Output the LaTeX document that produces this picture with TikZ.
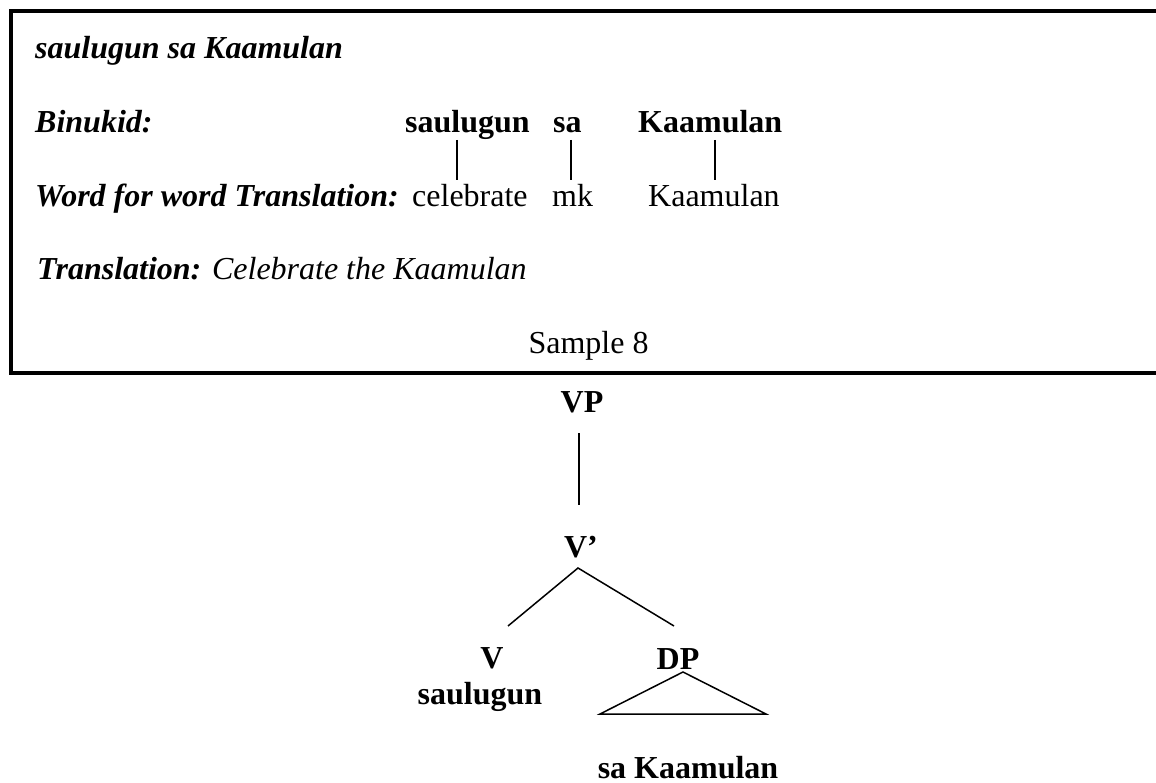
\documentclass[tikz,border=0pt]{standalone}
\usepackage{fontspec}
\setmainfont{Liberation Serif}
\begin{document}
\begin{tikzpicture}[x=1pt,y=-1pt,
  every node/.style={inner sep=0pt, font=\fontsize{32}{38}\selectfont},
  lbl/.style={anchor=base west},
  ctr/.style={anchor=base},
  bx/.style={line width=4pt},
  ln/.style={line width=1.5pt}]
\useasboundingbox (0,0) rectangle (1156,783);
\fill[white] (0,0) rectangle (1156,783);
% frame (open on the right, runs off the page)
\draw[bx] (1175,11.5) -- (10.5,11.5) -- (10.5,372.5) -- (1175,372.5);

% box text
\node[lbl] (title) at (35,59) {\bfseries\itshape saulugun sa Kaamulan};
\node[lbl] (bin) at (35,133) {\bfseries\itshape Binukid:};
\node[lbl] (b1) at (405,133) {\bfseries saulugun};
\node[lbl] (b2) at (553,133) {\bfseries sa};
\node[lbl] (b3) at (638,133) {\bfseries Kaamulan};
\node[lbl] (wfw) at (35,207) {\bfseries\itshape Word for word Translation:};
\node[lbl] (g1) at (412,207) {celebrate};
\node[lbl] (g2) at (552,207) {mk};
\node[lbl] (g3) at (648,207) {Kaamulan};
\node[lbl] (tr) at (37,280) {{\bfseries\itshape Translation:} {\itshape Celebrate the Kaamulan}};
\node[ctr] (s8) at (588.5,353) {Sample 8};

% gloss connectors
\coordinate (b1d) at (457,140); \coordinate (g1u) at (457,180);
\coordinate (b2d) at (571,140); \coordinate (g2u) at (571,180);
\coordinate (b3d) at (715,140); \coordinate (g3u) at (715,180);
\draw[ln] (b1d) -- (g1u);
\draw[ln] (b2d) -- (g2u);
\draw[ln] (b3d) -- (g3u);

% tree
\node[ctr] (vp) at (582,412) {\bfseries VP};
\node[ctr] (vbar) at (581,557) {\bfseries V’};
\node[ctr] (v) at (492,668) {\bfseries V};
\node[ctr] (vw) at (480,704) {\bfseries saulugun};
\node[ctr] (dp) at (678,669) {\bfseries DP};
\node[ctr] (sk) at (688,778) {\bfseries sa Kaamulan};

\coordinate (vpb) at (579,433);
\coordinate (vbt) at (579,505);
\coordinate (vbb) at (578,568);
\coordinate (vt) at (508,626);
\coordinate (dpt) at (674,626);
\coordinate (tapex) at (683,672);
\coordinate (tl) at (600,714);
\coordinate (tr2) at (766,714);
\draw[ln] (vpb) -- (vbt);
\draw[ln] (vt) -- (vbb) -- (dpt);
\draw[ln, line join=miter] (tapex) -- (tl) -- (tr2) -- cycle;
\end{tikzpicture}
\end{document}
